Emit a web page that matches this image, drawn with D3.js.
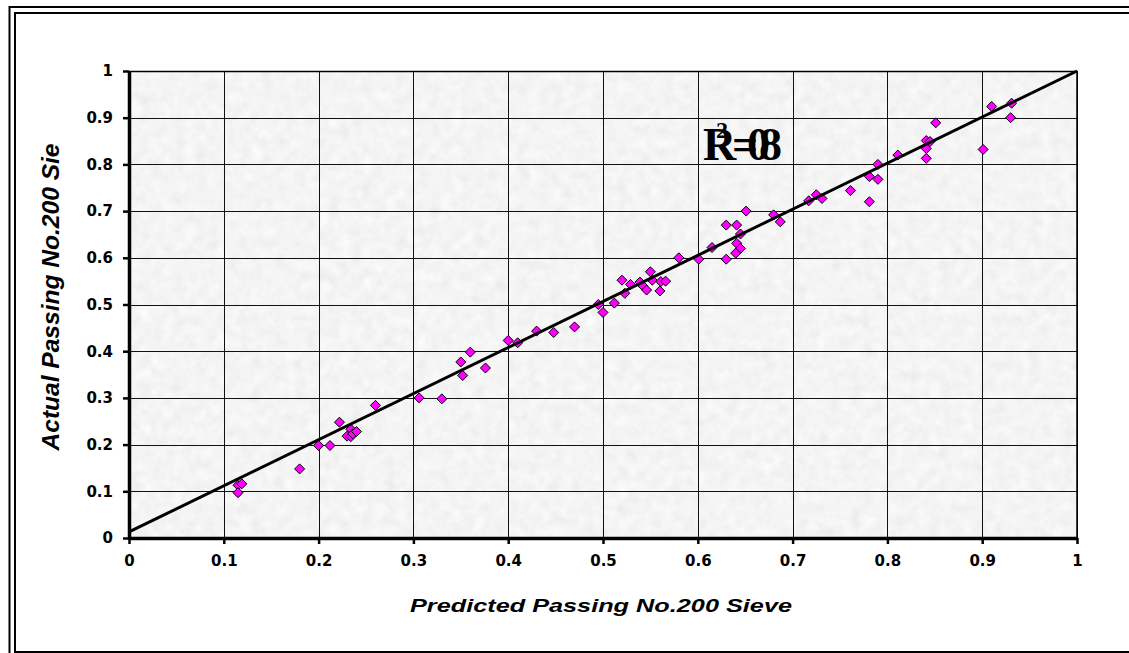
<!DOCTYPE html>
<html>
<head>
<meta charset="utf-8">
<script src="https://cdn.jsdelivr.net/npm/d3@7"></script>
<style>
  body { margin: 0; background: #fff; overflow: hidden; }
  svg { display: block; }
  .tick text { font-family: "DejaVu Sans", sans-serif; font-weight: bold; font-size: 15px; fill: #000; }
</style>
</head>
<body>
<div id="chart"></div>
<script>
// values
var predicted = [0.115, 0.119, 0.115, 0.180, 0.200, 0.212, 0.222, 0.230, 0.234, 0.234, 0.236, 0.240, 0.260,
  0.306, 0.330, 0.352, 0.350, 0.360, 0.376, 0.400, 0.410, 0.430, 0.448, 0.470,
  0.495, 0.500, 0.512, 0.520, 0.523, 0.529, 0.539, 0.542, 0.546, 0.550, 0.552, 0.561, 0.566, 0.560,
  0.580, 0.601, 0.615, 0.630, 0.630, 0.641, 0.645, 0.641, 0.645, 0.640, 0.651,
  0.680, 0.687, 0.717, 0.725, 0.731, 0.761, 0.781, 0.781, 0.790, 0.790, 0.811,
  0.841, 0.841, 0.841, 0.845, 0.851, 0.901, 0.910, 0.931, 0.930];
var actual = [0.113, 0.116, 0.097, 0.148, 0.198, 0.198, 0.248, 0.218, 0.217, 0.233, 0.223, 0.228, 0.284,
  0.300, 0.298, 0.348, 0.377, 0.398, 0.364, 0.423, 0.418, 0.443, 0.440, 0.452,
  0.500, 0.483, 0.503, 0.552, 0.524, 0.543, 0.548, 0.540, 0.531, 0.570, 0.552, 0.549, 0.550, 0.529,
  0.600, 0.597, 0.622, 0.597, 0.670, 0.670, 0.651, 0.631, 0.620, 0.610, 0.700,
  0.692, 0.677, 0.722, 0.735, 0.727, 0.744, 0.720, 0.774, 0.768, 0.800, 0.820,
  0.813, 0.834, 0.851, 0.849, 0.889, 0.832, 0.924, 0.931, 0.900];
var trendX = [0, 1];
var trendY = [0.013, 1.0];
var xTicks = [0, 0.1, 0.2, 0.3, 0.4, 0.5, 0.6, 0.7, 0.8, 0.9, 1];
var yTicks = [0, 0.1, 0.2, 0.3, 0.4, 0.5, 0.6, 0.7, 0.8, 0.9, 1];

var W = 1129, H = 653;
var margin = { top: 71, left: 129 },
  width = 948,
  height = 467;

var svg = d3.select("#chart").append("svg")
  .attr("width", W)
  .attr("height", H);

// texture for the plot area
var defs = svg.append("defs");
var filt = defs.append("filter").attr("id", "tex")
  .attr("x", 0).attr("y", 0).attr("width", "100%").attr("height", "100%");
filt.append("feTurbulence")
  .attr("type", "fractalNoise")
  .attr("baseFrequency", "0.09")
  .attr("numOctaves", 3)
  .attr("seed", 7);
filt.append("feColorMatrix")
  .attr("type", "matrix")
  .attr("values", "0.09 0.09 0.09 0 0.77  0.09 0.09 0.09 0 0.77  0.09 0.09 0.09 0 0.77  0 0 0 0 1");

// outer double frame (runs off right and bottom edges)
svg.append("rect")
  .attr("x", 9.5).attr("y", 7)
  .attr("width", 1150).attr("height", 651.5)
  .attr("fill", "none").attr("stroke", "#000").attr("stroke-width", 2);
svg.append("rect")
  .attr("x", 15).attr("y", 13)
  .attr("width", 1140).attr("height", 639)
  .attr("fill", "none").attr("stroke", "#000").attr("stroke-width", 2);

var x = d3.scaleLinear().domain([0, 1]).range([0, width]);
var y = d3.scaleLinear().domain([0, 1]).range([height, 0]);

var g = svg.append("g")
  .attr("transform", "translate(" + margin.left + "," + margin.top + ")");

g.append("rect")
  .attr("width", width).attr("height", height)
  .attr("filter", "url(#tex)");

// grid
g.append("g").selectAll("line")
  .data(xTicks.slice(1))
  .enter().append("line")
  .attr("x1", d => Math.round(x(d)) + 0.5).attr("x2", d => Math.round(x(d)) + 0.5)
  .attr("y1", 0).attr("y2", height)
  .attr("stroke", "#111").attr("stroke-width", 1);
g.append("g").selectAll("line")
  .data(yTicks.slice(1))
  .enter().append("line")
  .attr("y1", d => Math.round(y(d)) + 0.5).attr("y2", d => Math.round(y(d)) + 0.5)
  .attr("x1", 0).attr("x2", width)
  .attr("stroke", "#111").attr("stroke-width", 1);

// plot border top/right
g.append("path")
  .attr("d", "M0,0.5H" + width + "V" + height)
  .attr("fill", "none").attr("stroke", "#000").attr("stroke-width", 1.5);

// points
var pts = predicted.map((p, i) => ({ p: p, a: actual[i] }));
g.append("g").selectAll("path")
  .data(pts)
  .enter().append("path")
  .attr("d", "M0,-5L5,0L0,5L-5,0Z")
  .attr("transform", d => "translate(" + x(d.p) + "," + y(d.a) + ")")
  .attr("fill", "#ff00ff")
  .attr("stroke", "#000")
  .attr("stroke-width", 1);

// trend line
var line = d3.line()
  .x(d => x(d[0]))
  .y(d => y(d[1]));
g.append("path")
  .datum(trendX.map((v, i) => [v, trendY[i]]))
  .attr("d", line)
  .attr("fill", "none")
  .attr("stroke", "#000")
  .attr("stroke-width", 3);

// axes
var xAxis = d3.axisBottom(x).tickValues(xTicks).tickFormat(d3.format("")).tickSize(6).tickSizeOuter(0).tickPadding(11);
var yAxis = d3.axisLeft(y).tickValues(yTicks).tickFormat(d3.format("")).tickSize(6).tickSizeOuter(0).tickPadding(10);

var gx = g.append("g").attr("transform", "translate(0," + height + ")").call(xAxis);
var gy = g.append("g").call(yAxis);
[gx, gy].forEach(a => {
  a.select(".domain").attr("stroke-width", 3.5).attr("stroke", "#000");
  a.selectAll(".tick line").attr("stroke-width", 2.5).attr("stroke", "#000");
});

// titles
svg.append("text")
  .attr("x", 601)
  .attr("y", 612)
  .attr("text-anchor", "middle")
  .attr("textLength", 382)
  .attr("lengthAdjust", "spacingAndGlyphs")
  .style("font-family", "Arial, 'Liberation Sans', sans-serif")
  .style("font-weight", "bold")
  .style("font-style", "italic")
  .style("font-size", "18px")
  .text("Predicted Passing No.200 Sieve");

svg.append("text")
  .attr("transform", "translate(59,297) rotate(-90)")
  .attr("text-anchor", "middle")
  .attr("textLength", 307)
  .attr("lengthAdjust", "spacingAndGlyphs")
  .style("font-family", "Arial, 'Liberation Sans', sans-serif")
  .style("font-weight", "bold")
  .style("font-style", "italic")
  .style("font-size", "23px")
  .text("Actual Passing No.200 Sie");

// R² label, glyphs crowded together as in the original
var r2 = svg.append("text")
  .attr("x", 703).attr("y", 160)
  .style("font-family", "'Liberation Serif', 'Times New Roman', serif")
  .style("font-weight", "bold")
  .style("font-size", "46px")
  .attr("fill", "#000");
r2.append("tspan").text("R");
r2.append("tspan").attr("x", 716).attr("y", 138).style("font-size", "24px").text("2");
r2.append("tspan").attr("x", 732).attr("y", 160).text("=");
r2.append("tspan").attr("x", 747).text("0");
r2.append("tspan").attr("x", 759).text("8");
</script>
</body>
</html>
